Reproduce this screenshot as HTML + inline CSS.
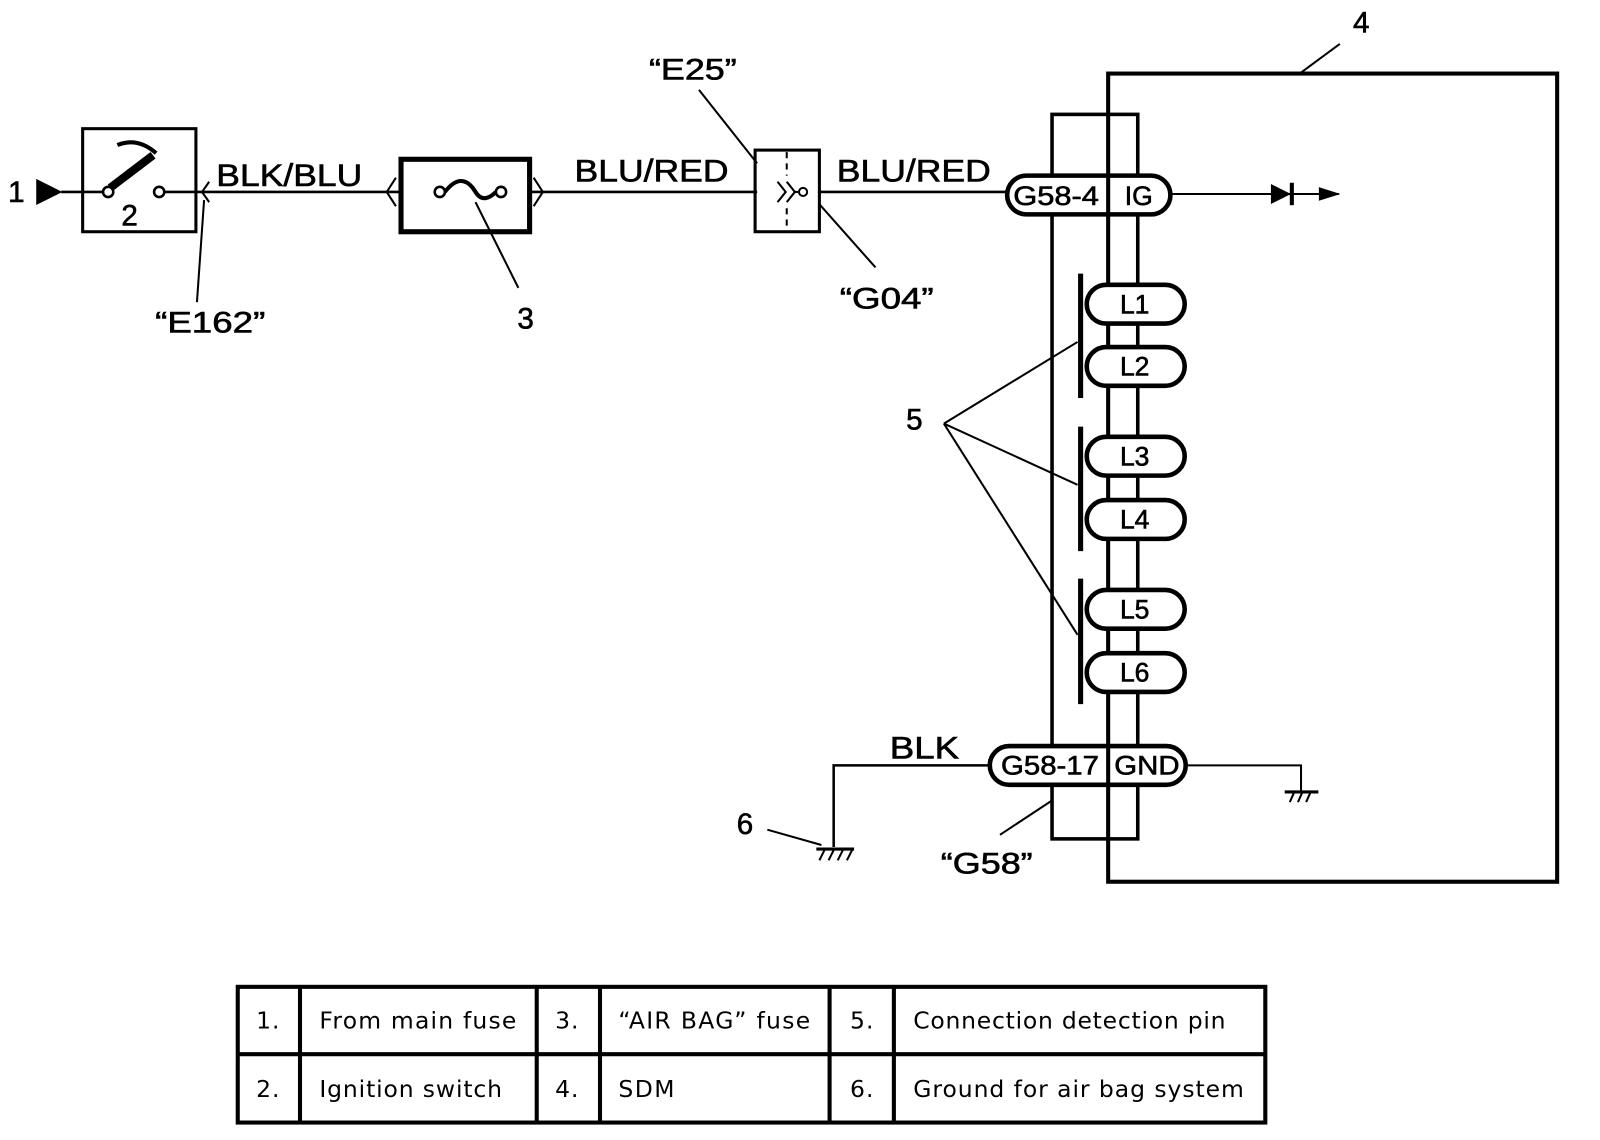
<!DOCTYPE html>
<html><head><meta charset="utf-8"><style>
html,body{margin:0;padding:0;background:#fff;}
svg{display:block;}
.t{font-family:"Liberation Sans",Arial,sans-serif;fill:#000;stroke:#000;stroke-width:0.6;}
.tb{font-family:"DejaVu Sans",sans-serif;font-size:23px;fill:#000;letter-spacing:1px;}
</style></head><body>
<svg width="1600" height="1140" viewBox="0 0 1568 1117" xmlns="http://www.w3.org/2000/svg" fill="none" stroke="#000">
<!-- 1 -->
<text class="t" x="8" y="198" font-size="29">1</text>
<polygon points="36,176 60,188 36,200" fill="#000"/>
<line x1="60" y1="188" x2="101" y2="188" stroke-width="2.5"/>
<!-- switch -->
<rect x="81" y="126" width="111" height="101" stroke-width="3"/>
<circle cx="106" cy="188" r="5" stroke-width="2.5" fill="#fff"/>
<circle cx="156" cy="188" r="5" stroke-width="2.5"/>
<line x1="108" y1="184" x2="150" y2="152" stroke-width="8"/>
<path d="M115,142 Q135,134 153,150" stroke-width="4"/>
<text class="t" x="119" y="221" font-size="29">2</text>
<line x1="161" y1="188" x2="395" y2="188" stroke-width="2.5"/>
<path d="M205,178 L198,188 L205,198" stroke-width="2"/>
<text class="t" x="212" y="182" font-size="31" textLength="143" lengthAdjust="spacingAndGlyphs">BLK/BLU</text>
<line x1="200" y1="196" x2="193" y2="296" stroke-width="2"/>
<text class="t" x="152" y="326" font-size="29" textLength="108" lengthAdjust="spacingAndGlyphs">“E162”</text>
<!-- fuse -->
<path d="M388,174 L379,188 L388,202" stroke-width="2"/>
<rect x="393" y="156" width="126" height="71" stroke-width="5"/>
<path d="M523,174 L532,188 L523,202" stroke-width="2"/>
<circle cx="431" cy="188" r="5" stroke-width="2.5"/>
<circle cx="491" cy="188" r="5" stroke-width="2.5"/>
<path d="M436,188 C450,170 460,178 466,188 C472,198 480,194 486,188" stroke-width="4"/>
<line x1="466" y1="198" x2="508" y2="282" stroke-width="2"/>
<text class="t" x="507" y="322" font-size="29">3</text>
<line x1="519" y1="188" x2="742" y2="188" stroke-width="2.5"/>
<text class="t" x="563" y="178" font-size="31" textLength="151" lengthAdjust="spacingAndGlyphs">BLU/RED</text>
<!-- E25 -->
<rect x="740" y="147" width="63" height="80" stroke-width="3"/>
<line x1="771" y1="149" x2="771" y2="172" stroke-width="2" stroke-dasharray="6,5"/>
<line x1="771" y1="204" x2="771" y2="225" stroke-width="2" stroke-dasharray="6,5"/>
<path d="M762,178 L770,188 L762,198 M771,178 L779,188 L771,198" stroke-width="2"/>
<line x1="779" y1="188" x2="782" y2="188" stroke-width="2"/>
<circle cx="787" cy="188" r="4" stroke-width="2"/>
<text class="t" x="636" y="78" font-size="29" textLength="86" lengthAdjust="spacingAndGlyphs">“E25”</text>
<line x1="685" y1="88" x2="742" y2="160" stroke-width="2"/>
<line x1="803" y1="200" x2="858" y2="262" stroke-width="2"/>
<text class="t" x="823" y="302" font-size="29" textLength="92" lengthAdjust="spacingAndGlyphs">“G04”</text>
<line x1="803" y1="188" x2="987" y2="188" stroke-width="2.5"/>
<text class="t" x="820" y="178" font-size="31" textLength="151" lengthAdjust="spacingAndGlyphs">BLU/RED</text>
<!-- SDM -->
<rect x="1031" y="112" width="84" height="710" stroke-width="3.5"/>
<rect x="1086" y="72" width="440" height="792" stroke-width="4"/>
<line x1="1275" y1="71" x2="1313" y2="43" stroke-width="2"/>
<text class="t" x="1326" y="32" font-size="29">4</text>
<!-- G58-4 pill -->
<rect x="987" y="172" width="160" height="38" rx="19" stroke-width="4.5" fill="#fff"/>
<line x1="1086" y1="172" x2="1086" y2="210" stroke-width="4"/>
<text class="t" x="993" y="201" font-size="26" textLength="84" lengthAdjust="spacingAndGlyphs">G58-4</text>
<text class="t" x="1116" y="201" font-size="26" text-anchor="middle">IG</text>
<line x1="1147" y1="190" x2="1312" y2="190" stroke-width="2"/>
<polygon points="1246,181 1264,190 1246,199" fill="#000"/>
<line x1="1266" y1="179" x2="1266" y2="201" stroke-width="4"/>
<polygon points="1293,184 1312,190 1293,196" fill="#000"/>
<!-- L pills -->
<g stroke-width="4.5" fill="#fff">
<rect x="1065" y="279" width="96" height="38" rx="19"/>
<rect x="1065" y="340" width="96" height="38" rx="19"/>
<rect x="1065" y="428" width="96" height="38" rx="19"/>
<rect x="1065" y="490" width="96" height="38" rx="19"/>
<rect x="1065" y="578" width="96" height="38" rx="19"/>
<rect x="1065" y="640" width="96" height="38" rx="19"/>
</g>
<g class="t" font-size="26" text-anchor="middle">
<text x="1112" y="307">L1</text><text x="1112" y="368">L2</text>
<text x="1112" y="456">L3</text><text x="1112" y="518">L4</text>
<text x="1112" y="606">L5</text><text x="1112" y="668">L6</text>
</g>
<g stroke-width="5">
<line x1="1059" y1="268" x2="1059" y2="390"/>
<line x1="1059" y1="418" x2="1059" y2="540"/>
<line x1="1059" y1="567" x2="1059" y2="690"/>
</g>
<text class="t" x="888" y="421" font-size="29">5</text>
<g stroke-width="2">
<line x1="925" y1="415" x2="1056" y2="335"/>
<line x1="925" y1="415" x2="1056" y2="475"/>
<line x1="925" y1="415" x2="1056" y2="622"/>
</g>
<!-- GND pill -->
<rect x="970" y="731" width="192" height="38" rx="19" stroke-width="4.5" fill="#fff"/>
<line x1="1086" y1="731" x2="1086" y2="769" stroke-width="4"/>
<text class="t" x="981" y="759" font-size="26" textLength="96" lengthAdjust="spacingAndGlyphs">G58-17</text>
<text class="t" x="1124" y="759" font-size="26" text-anchor="middle" textLength="64" lengthAdjust="spacingAndGlyphs">GND</text>
<path d="M1162,750 L1275,750 L1275,775" stroke-width="2"/>
<line x1="1259" y1="776" x2="1292" y2="776" stroke-width="3"/>
<path d="M1264,786 L1268,777 M1272,786 L1276,777 M1280,786 L1284,777" stroke-width="2"/>
<path d="M970,750 L817,750 L817,830" stroke-width="2.5"/>
<text class="t" x="872" y="743" font-size="31" textLength="68" lengthAdjust="spacingAndGlyphs">BLK</text>
<line x1="800" y1="832" x2="837" y2="832" stroke-width="3"/>
<path d="M803,843 L808,833 M812,843 L817,833 M821,843 L826,833 M830,843 L835,833" stroke-width="2"/>
<text class="t" x="722" y="817" font-size="29">6</text>
<line x1="752" y1="813" x2="805" y2="828" stroke-width="2"/>
<line x1="980" y1="818" x2="1030" y2="785" stroke-width="2"/>
<text class="t" x="922" y="856" font-size="29" textLength="90" lengthAdjust="spacingAndGlyphs">“G58”</text>
<!-- table -->
<g stroke-width="4">
<rect x="233" y="967" width="1007" height="133"/>
<line x1="233" y1="1033" x2="1240" y2="1033"/>
<line x1="294" y1="967" x2="294" y2="1100"/>
<line x1="526" y1="967" x2="526" y2="1100"/>
<line x1="588" y1="967" x2="588" y2="1100"/>
<line x1="813" y1="967" x2="813" y2="1100"/>
<line x1="876" y1="967" x2="876" y2="1100"/>
</g>
<g class="tb" stroke="none">
<text x="251" y="1008">1.</text><text x="313" y="1008" textLength="194">From main fuse</text>
<text x="544" y="1008">3.</text><text x="606" y="1008" textLength="189">“AIR BAG” fuse</text>
<text x="833" y="1008">5.</text><text x="895" y="1008" textLength="307">Connection detection pin</text>
<text x="251" y="1075">2.</text><text x="313" y="1075" textLength="180">Ignition switch</text>
<text x="544" y="1075">4.</text><text x="606" y="1075" textLength="56">SDM</text>
<text x="833" y="1075">6.</text><text x="895" y="1075" textLength="325">Ground for air bag system</text>
</g>
</svg>
</body></html>
